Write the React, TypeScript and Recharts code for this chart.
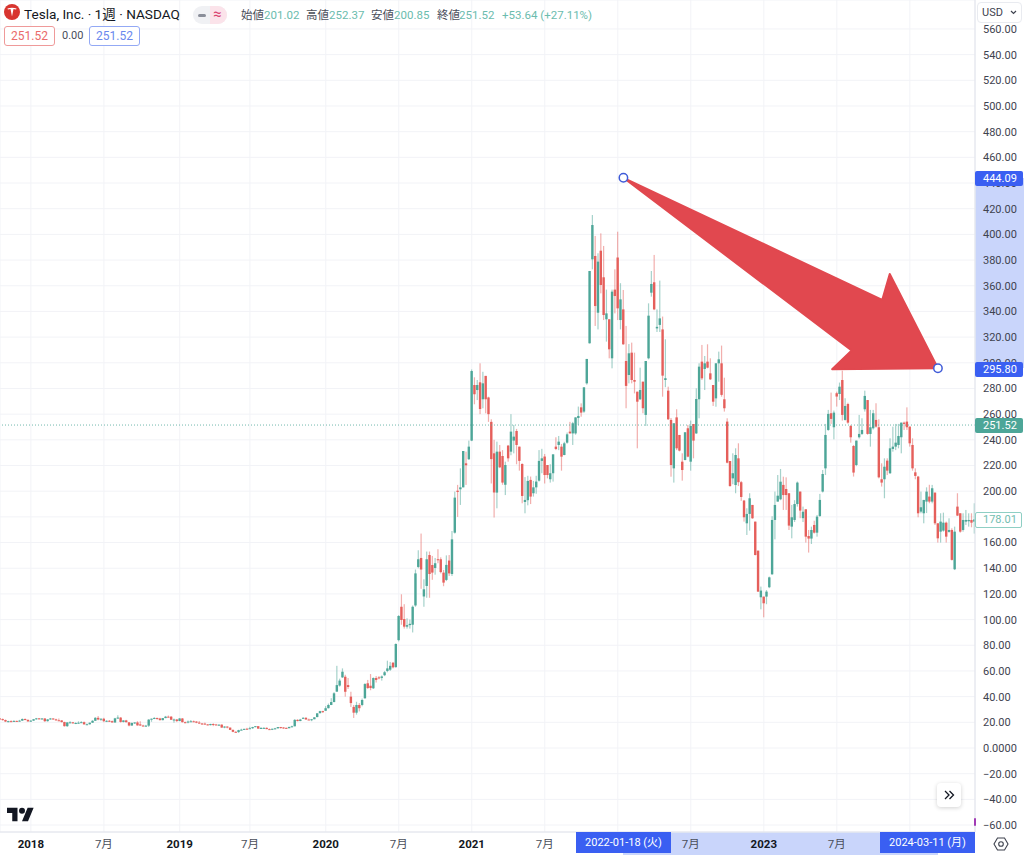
import {
  ComposedChart,
  Bar,
  XAxis,
  YAxis,
  CartesianGrid,
  ReferenceLine,
} from "recharts";

// weekly candles, index 0 = week of 2017-10-16, index 347 = week of 2024-06-10
const opens = [
  23.0,22.5,21.8,20.6,20.9,20.8,21.1,20.8,21.3,22.6,
  21.9,20.8,21.3,22.4,23.1,22.9,23.0,20.9,22.3,23.0,
  22.3,21.6,21.5,20.2,17.0,19.9,20.0,19.3,19.5,19.7,
  20.1,18.4,18.5,19.7,21.2,23.5,22.2,22.8,20.9,21.2,
  20.9,19.9,23.1,23.7,20.3,21.5,20.0,17.5,19.5,19.9,
  18.4,17.5,17.3,17.4,22.1,22.8,23.4,23.0,21.7,23.3,
  24.4,24.4,22.0,22.2,21.0,23.0,20.1,19.9,20.6,20.8,
  20.6,19.8,19.1,19.0,18.4,17.8,18.7,18.3,18.0,18.2,
  15.9,16.7,15.9,14.1,12.6,12.4,13.9,14.3,15.0,15.0,
  15.4,16.3,17.0,15.1,15.6,15.7,14.7,14.3,15.0,15.3,
  16.3,16.0,15.7,15.4,16.4,16.9,21.9,21.0,23.0,23.5,
  22.2,22.0,22.4,24.1,27.1,28.7,29.0,31.0,33.5,35.8,
  43.9,48.6,55.0,55.5,49.0,40.0,32.0,27.5,33.5,33.5,
  38.7,50.4,48.5,46.5,54.5,55.0,54.6,56.7,60.0,61.0,
  66.4,63.0,84.0,110.0,100.4,94.5,95.7,96.0,111.0,141.0,
  148,118,126.2,150.3,142.5,140.2,147,147,136.6,130.9,
  146,135.5,167.7,200.4,201.5,203,221.7,224.9,239.4,282.7,
  278.8,284.8,271.6,289.8,273,254,229.5,198.9,230.8,227.4,
  205,235.5,230.8,239.4,246.9,234.7,221.2,191.6,193,208.8,
  198.4,203,208.2,223.6,227,220.4,209.3,214,234.7,236,
  234.7,228.2,237.8,246.4,245,245,257,265.3,262,284,
  315.2,380.6,383.2,339,387.3,366.6,333.9,333.9,303.5,357,
  382,333.3,341.6,301.4,290.5,307.9,286.6,277.5,271.6,285.3,
  259.4,303.5,354.6,362.7,326.8,329.5,326,286.6,278.3,255.5,
  217.8,257.5,243.8,223,224.3,249,223,252.3,245,271.6,
  300.9,295.2,300.9,291.8,282.7,272.3,299.6,299.6,271.6,254.2,
  223.5,210,204.8,225.6,207,192.7,175,182.3,189.3,176.3,
  153.7,117.4,117.9,117.9,125.2,135.3,177.6,191.9,193.7,204.9,
  201.7,198.4,172.4,177.6,190,199.7,179,185.9,165.1,163.1,
  173.7,167.7,180.7,199.7,217.8,247.7,260.7,249.8,276.3,275.7,
  286.6,255.5,267.9,250.8,235.2,220.4,242,244.6,263.8,271,
  244.6,249,255.5,249.8,209.3,209.3,223.8,214,232.9,234.7,
  236,242,253.4,254.2,250.3,236,214.7,211.4,184.1,182.8,
  191.9,195.8,191.9,198.9,175,168.5,169.3,175.5,168.3,169.8,
  139.2,188,182.8,169.8,176.3,176.6,177.6,176.3,
];
const highs = [
  23.3,23.0,22.2,21.2,21.6,21.6,21.3,21.9,23.0,23.0,
  22.2,21.7,22.6,23.4,23.3,23.3,23.2,22.4,23.4,23.1,
  22.8,23.0,21.6,20.5,20.1,20.9,20.3,20.0,20.8,20.9,
  20.6,19.1,19.8,21.7,24.0,24.9,23.1,23.5,21.6,21.8,
  21.4,23.5,25.5,24.0,21.6,21.9,20.1,19.9,20.0,20.9,
  20.8,18.1,18.0,22.5,23.0,24.0,23.6,23.5,23.4,25.0,
  25.3,24.9,22.9,22.6,23.4,23.3,20.6,21.4,21.8,21.4,
  20.9,21.0,19.5,19.8,18.6,18.9,19.2,18.8,18.3,18.4,
  17.0,16.9,15.9,14.4,13.1,14.2,15.0,15.0,15.7,16.5,
  16.5,17.0,17.0,16.3,16.1,16.0,15.2,15.0,15.7,16.3,
  16.4,16.2,15.9,16.6,17.4,22.5,22.4,22.7,24.0,24.0,
  22.9,22.6,24.0,27.2,29.0,29.0,32.6,34.6,38.8,43.5,
  64.0,54.0,62.0,57.0,54.5,43.8,33.5,36.0,35.0,38.5,
  50.5,53.0,57.6,55.0,56.0,56.0,56.5,60.0,68.0,67.0,
  67.0,81.5,103.5,119.7,112.0,101.0,100.0,111.0,139.0,154.0,
  167,131.4,153,153,149.6,148,154.8,148.5,138.7,150,
  150.3,169,199.7,204.9,217.8,231.3,230.8,239.4,294.8,288.7,
  286.6,299.6,293,289.8,273.6,256,240,238.6,236,232,
  223,236,260,251.6,248.5,234.7,221.7,211,212,211.4,
  208,212,232,233,229,220.4,221,228.7,242,243,
  236.8,238.5,245.7,254,254,257.5,265.9,268.4,280.9,303,
  371.5,415.1,398.8,385.3,400.8,391,357,333.9,357,372.8,
  402.1,362,356.7,328.7,314.6,315.7,307.9,277.5,296.2,285.3,
  301.4,346.3,371.5,384,341.6,364,336,318.3,281.4,257,
  252.9,263.8,243.8,229.5,245.9,251.6,255,252.3,280.1,299.6,
  313.9,305.3,314.4,303.5,282.7,299.6,308.7,313.4,288.4,256.8,
  223.5,229.5,233.4,237.3,208,193.2,186.7,198.4,189.3,176.3,
  153.7,125.7,117.9,123,133.5,180.5,199.7,212.6,217.3,211.3,
  210.8,198.4,189.3,193,207.5,199.7,188,185.9,169.8,172.4,
  177,181.5,197.9,216.5,252.4,263.3,276.8,262.8,277.5,284.6,
  293.9,272.4,268.9,251.6,236,239.4,259.4,256.8,278.3,271,
  263.3,263.3,268.5,256,221.7,225.6,225.6,241.2,250.3,252.4,
  252.4,253.4,254.2,265.3,250.3,241.2,217.8,211.9,199.7,193.2,
  203,205,204.9,198.9,175,182.8,183.3,176.3,178.9,171.1,
  172.4,198.4,182.8,182.8,185.4,182.8,182.8,190.6,
];
const lows = [
  22.2,21.3,20.2,20.0,20.2,20.7,20.4,20.6,21.1,21.6,
  20.6,20.5,21.1,22.1,22.3,22.2,20.3,20.6,22.1,22.0,
  21.3,21.1,19.9,16.7,16.4,19.3,18.9,18.6,19.0,19.5,
  18.3,18.0,18.2,19.6,21.1,21.6,21.1,20.1,20.2,20.3,
  19.8,19.6,22.7,19.8,19.9,19.9,16.9,17.3,18.7,17.4,
  17.3,16.9,16.8,16.4,20.4,22.5,22.0,21.4,21.5,23.2,
  23.9,21.9,19.7,20.2,20.9,19.9,19.3,19.2,20.4,20.2,
  19.3,18.9,18.1,18.3,17.6,17.6,17.0,17.9,17.2,15.7,
  15.4,15.3,14.0,12.3,12.3,11.8,13.8,14.2,14.6,15.0,
  14.9,16.2,14.9,15.0,15.2,14.7,14.2,14.0,14.7,15.3,
  15.1,14.9,15.0,15.4,16.2,16.9,20.7,20.9,22.7,22.0,
  22.0,20.9,22.4,23.9,27.0,27.3,28.9,30.8,33.4,35.6,
  43.7,47.8,54.5,40.0,46.0,32.0,23.4,26.0,28.5,32.5,
  38.5,46.0,45.0,46.0,51.0,53.5,52.5,56.0,59.0,60.0,
  62.0,62.5,83.0,96.0,93.0,93.0,93.0,90.0,110.0,140.0,
  124,110,117,117,131,135,143.9,136,126,130,
  134,134,167,180,189.3,203,204.9,224.3,239,267.7,
  271,260,264.6,260.7,254,206,179.5,186.7,218,205,
  197,223,228,229.5,221,216,190.6,182.8,189,190,
  195.8,198,207.5,214,206,210,206.7,207.5,232,232,
  216,228,237,245,236,244,251.6,258,261,283,
  315,372.8,328.7,326,354.1,333.3,316.5,303.5,295.7,338.5,
  333.3,326,314,264.6,284,284,276.2,233.4,271,260.7,
  250.8,302.7,351.5,341,324,324,273.6,281,255.5,211.3,
  206.7,232,231,208.2,224,226.4,216,225.6,244.6,256.8,
  286.6,278.8,295.7,286.6,266.4,265.8,285.3,273.6,262,221.7,
  203.5,205.4,198.4,204,192.5,176.3,165.9,169.3,178.5,150,
  121.5,108,101.8,112,124.5,134.8,162.5,191.9,193,185.4,
  185.4,169.8,163.3,176,188,179,176,160,152.2,158.9,
  167,164.6,180,199,212.6,247,252.4,240.4,265.9,271,
  255,255,252.5,237.8,211.4,219.5,241,243.8,262,244,
  234.7,248,249.5,210,203.6,194.5,212.6,213.4,230.8,232,
  233.4,229.5,247.7,247.7,234.7,216,209.3,179.7,182.8,175,
  183,190.6,190.6,173.7,160,160,168.5,160,167.7,146,
  138.6,180.7,167.7,168.5,173.7,172.4,171.9,167,
];
const closes = [
  22.5,21.8,20.6,20.9,20.7,21.1,20.8,21.3,22.6,21.9,
  20.7,21.3,22.4,23.1,22.6,23.0,20.9,22.3,23.0,22.3,
  21.6,21.5,20.2,17.0,19.9,20.0,19.3,19.5,19.7,20.1,
  18.4,18.5,19.7,21.2,23.5,22.2,22.8,20.9,21.2,20.9,
  19.9,23.1,23.7,20.3,21.5,20.1,17.5,19.5,19.9,17.6,
  17.5,17.3,17.4,22.1,22.8,23.4,23.0,21.7,23.3,24.4,
  24.3,22.0,22.2,21.0,23.0,20.1,19.9,20.6,20.8,20.6,
  19.7,19.1,19.0,18.4,17.8,18.7,18.3,18.0,18.2,15.9,
  16.7,15.9,14.1,12.6,12.4,13.9,14.3,14.9,14.9,15.4,
  16.3,17.0,15.1,15.6,15.7,14.7,14.3,15.0,15.3,16.3,
  16.0,15.7,15.4,16.4,16.9,21.9,21.0,22.2,23.5,22.2,
  22.0,22.4,23.9,27.0,28.7,28.5,31.0,33.5,35.8,42.6,
  49.0,52.5,59.4,43.8,47.5,35.0,27.5,33.5,31.0,37.4,
  49.8,46.7,46.7,54.5,53.0,54.4,55.7,59.0,62.0,64.0,
  62.8,81.0,102.8,99.7,94.5,95.7,96.7,110.0,136.0,147.0,
  139,123.6,147,135.5,136.6,143.9,146.4,137,128.8,142.6,
  136,162.5,195,199.4,203,231.3,220.2,234.7,293.6,275.5,
  282.7,264,284,271.6,260,225,199,230.8,218.6,206.7,
  220.4,225.6,246.4,242.5,236,223.6,196.3,193.2,208,195.8,
  203,207.5,223.6,225.6,212.6,212.6,214,228.7,232.9,238.6,
  226.9,237.3,244.3,245,252.9,257.5,258.6,261.2,280.9,303,
  371.5,407.3,344.2,378.8,360.6,337.2,338.5,310.5,355.4,352,
  342.4,349.4,314.4,282,307.4,286.6,285.3,269.7,278.8,264.6,
  301.4,336.7,361.4,341.6,328,334.6,290,288,256,220.4,
  252.9,233.4,231.6,216.5,245.9,226.9,250.8,239.4,271.8,297,
  287.9,299.6,296.2,287.1,269.7,299.6,302.7,275,264.6,222.2,
  204,214,228.2,207,195.5,179.7,182.3,194.5,178.9,150.3,
  121.8,122.6,112.7,121.8,132.9,177.6,189.3,196.5,207.4,197,
  197,173.2,179.7,190,206.7,184.9,184,164.6,163.1,169.8,
  167.7,180.2,193.2,213.4,243.8,260.2,256.3,261.2,273.7,281.4,
  259.4,266.4,253.4,242,214.5,239.4,244.6,247.7,274.2,244.6,
  249.8,260.7,250.3,210.8,206.7,219.1,216,233.4,234.7,237.8,
  243,253.4,252.4,249.8,237.3,217.8,211.9,182.8,187.5,193.2,
  199.7,191.9,202.3,175,163.3,176.3,175.5,164.6,169.8,146.5,
  168.5,181,168.5,177.6,177.6,177.6,175.5,178,
];

const timeTicks = [11, 37, 64, 89, 116, 142, 168, 194, 220, 246, 272, 298, 324];
// the 2022 and 2024 labels sit under the drawing's date labels in the reference
const timeLabels = ["2018", "7月", "2019", "7月", "2020", "7月", "2021", "7月", "", "7月", "2023", "7月", ""];
const priceTicks = [
  -60, -40, -20, 0, 20, 40, 60, 80, 100, 120, 140, 160, 180, 200, 220, 240, 260, 280, 300,
  320, 340, 360, 380, 400, 420, 440, 460, 480, 500, 520, 540, 560,
];
const arrowFrom = { week: 222, price: 444.09 };
const arrowTo = { week: 334, price: 295.8 };
const lastPrice = 251.52;

const rows = opens.map((open, i) => ({
  week: i,
  open,
  high: highs[i],
  low: lows[i],
  close: closes[i],
}));

const FONT = 'Roboto, "Noto Sans CJK JP", sans-serif';
const GREEN = "#4da698";
const RED = "#e55f5b";
const BLUE = "#3a5ff2";

const Candle = (props: any) => {
  const { x, y, width, height, payload } = props;
  const { open, high, low, close } = payload;
  const cx = x + width / 2;
  const unit = height / (high - low);
  const top = y + (high - Math.max(open, close)) * unit;
  const bottom = y + (high - Math.min(open, close)) * unit;
  const color = close >= open ? GREEN : RED;
  return (
    <g>
      <rect x={cx - 0.6} y={y} width={1.2} height={height} fill={color} opacity={0.5} />
      <rect x={cx - 1.2} y={top} width={2.4} height={Math.max(bottom - top, 1)} fill={color} />
    </g>
  );
};

// arrow marker between the two anchors, head offsets are in px along/across the arrow
const ArrowMarker = (props: any) => {
  const { x1, y1, x2, y2 } = props;
  const len = Math.hypot(x2 - x1, y2 - y1);
  const ux = (x2 - x1) / len;
  const uy = (y2 - y1) / len;
  const at = (back: number, side: number) =>
    `${x2 - ux * back - uy * side},${y2 - uy * back + ux * side}`;
  const pts = [`${x1},${y1}`, at(83, -29.5), at(90, -55.6), `${x2},${y2}`, at(90, 55.6), at(83, 29.5)];
  return (
    <g>
      <polygon points={pts.join(" ")} fill="#e1484f" stroke="#e1484f" strokeWidth={2} strokeLinejoin="round" />
      <circle cx={x1} cy={y1} r={4.2} fill="#fff" stroke="#3f5bd8" strokeWidth={1.5} />
      <circle cx={x2} cy={y2} r={4.2} fill="#fff" stroke="#3f5bd8" strokeWidth={1.5} />
    </g>
  );
};

const TimeTick = (props: any) => {
  const { x, payload } = props;
  const label = timeLabels[timeTicks.indexOf(payload.value)];
  if (!label) return <g />;
  const isYear = label.length === 4;
  return (
    <text
      x={x}
      y={848}
      textAnchor="middle"
      fontFamily={FONT}
      fontSize={11.5}
      fontWeight={isYear ? 700 : 400}
      fill={isYear ? "#131722" : "#4a4e5a"}
    >
      {label}
    </text>
  );
};

const priceLabel = (v: number) => {
  if (v === 0) return "0.0000";
  // 180.00 is hidden by the last price tag in the reference
  if (v === 180) return "";
  return v < 0 ? "−" + Math.abs(v).toFixed(2) : v.toFixed(2);
};

const box = (left: number, top: number, width: number, height: number, extra: any = {}): any => ({
  position: "absolute",
  left,
  top,
  width,
  height,
  boxSizing: "border-box",
  ...extra,
});

const tag = (top: number, bg: string, text: string) => (
  <div
    style={box(975, top, 48, 15, {
      background: bg,
      color: "#fff",
      fontSize: 11,
      lineHeight: "15px",
      paddingLeft: 8,
      borderRadius: 2,
    })}
  >
    {text}
  </div>
);

const TXT = (left: number, color: string, text: string) => (
  <span style={{ position: "absolute", left, top: 5, fontSize: 11.5, lineHeight: "16px", color, whiteSpace: "nowrap" }}>
    {text}
  </span>
);

export default function App() {
  return (
    <div style={box(0, 0, 1024, 855, { overflow: "hidden", background: "#fff", fontFamily: FONT })}>
      {/* ranges of the drawing, behind the axes */}
      <div style={box(975, 178, 49, 190, { background: "#c9d5fb" })} />
      <div style={box(623, 832, 315, 23, { background: "#c9d5fb" })} />

      <ComposedChart
        width={1024}
        height={855}
        data={rows}
        margin={{ top: 0, right: 0, bottom: 0, left: 0 }}
        barCategoryGap={0}
      >
        <CartesianGrid stroke="#f2f3f7" />
        <XAxis
          dataKey="week"
          type="number"
          domain={[0, 347.2]}
          allowDataOverflow
          ticks={timeTicks}
          interval={0}
          height={23}
          tick={<TimeTick />}
          tickLine={false}
          axisLine={{ stroke: "#e0e3eb" }}
        />
        <YAxis
          orientation="right"
          type="number"
          width={49}
          domain={[-65.42, 582.55]}
          allowDataOverflow
          ticks={priceTicks}
          interval={0}
          tickFormatter={priceLabel}
          tick={{ fontFamily: FONT, fontSize: 11, fill: "#3f434f" }}
          tickLine={false}
          tickSize={0}
          tickMargin={8}
          axisLine={{ stroke: "#e0e3eb" }}
        />
        <ReferenceLine y={lastPrice} stroke={GREEN} strokeDasharray="1 2" strokeOpacity={0.8} />
        <Bar
          dataKey={(d: any) => [d.low, d.high]}
          barSize={3}
          shape={<Candle />}
          isAnimationActive={false}
        />
        <ReferenceLine
          segment={[
            { x: arrowFrom.week, y: arrowFrom.price },
            { x: arrowTo.week, y: arrowTo.price },
          ]}
          ifOverflow="visible"
          shape={<ArrowMarker />}
        />
      </ComposedChart>

      {/* header */}
      <svg style={box(4, 4, 16, 16)} viewBox="0 0 16 16">
        <circle cx="8" cy="8" r="8" fill="#d8352f" />
        <path d="M3.5 4.6c2.8-1 6.2-1 9 0l-.4 1c-.9-.3-1.8-.5-2.6-.5L8 12.5 6.500 5.100c-.8 0-1.700.200-2.600.500z" fill="#fff" />
      </svg>
      <span style={{ position: "absolute", left: 24, top: 5, fontSize: 13.6, lineHeight: "18px", color: "#131722", whiteSpace: "nowrap" }}>
        Tesla, Inc. · 1週 · NASDAQ
      </span>
      <div style={box(193, 6, 34, 18, { background: "#f0f1f4", borderRadius: 9 })} />
      <div style={box(210, 6, 17, 18, { background: "#fbe3ea", borderRadius: "0 9px 9px 0" })} />
      <div style={box(198, 13.5, 8, 3, { background: "#8a8e99", borderRadius: 1.5 })} />
      <span style={{ position: "absolute", left: 213, top: 5, fontSize: 15, lineHeight: "18px", color: "#d9406f" }}>≈</span>

      <div style={box(0, 2, 640, 16, { fontSize: 11.5 })}>
        {TXT(241, "#4a4e5a", "始値")}
        {TXT(264, "#6bbcae", "201.02")}
        {TXT(306, "#4a4e5a", "高値")}
        {TXT(329, "#6bbcae", "252.37")}
        {TXT(371, "#4a4e5a", "安値")}
        {TXT(394, "#6bbcae", "200.85")}
        {TXT(437, "#4a4e5a", "終値")}
        {TXT(459, "#6bbcae", "251.52")}
        {TXT(502, "#6bbcae", "+53.64 (+27.11%)")}
      </div>

      <div style={box(4, 26, 51, 20, { border: "1px solid #ef9a9a", borderRadius: 3, background: "#fff", color: "#ea6a6a", fontSize: 12, lineHeight: "18px", textAlign: "center" })}>
        251.52
      </div>
      <span style={{ position: "absolute", left: 62, top: 28, fontSize: 11, lineHeight: "16px", color: "#4a4e5a" }}>0.00</span>
      <div style={box(89, 26, 51, 20, { border: "1px solid #93a9f5", borderRadius: 3, background: "#fff", color: "#6a88ee", fontSize: 12, lineHeight: "18px", textAlign: "center" })}>
        251.52
      </div>

      {/* price scale */}
      <div style={box(977, 2, 45, 21, { border: "1px solid #e9ebf0", borderRadius: 4, background: "#fff", fontSize: 11, lineHeight: "19px", paddingLeft: 4, color: "#3f434f" })}>
        USD
        <svg style={box(32, 7, 7, 5)} viewBox="0 0 7 5">
          <path d="M1 1l2.500 2.500L6 1" fill="none" stroke="#3f434f" strokeWidth="1.200" />
        </svg>
      </div>
      {tag(170.5, BLUE, "444.09")}
      {tag(361.5, BLUE, "295.80")}
      {tag(418, GREEN, "251.52")}
      <div style={box(975, 512, 47, 15.500, { border: "1px solid #8fcfc4", borderRadius: 2, background: "#fff", color: "#72bdb0", fontSize: 11, lineHeight: "14px", paddingLeft: 7 })}>
        178.01
      </div>

      {/* time scale labels of the drawing */}
      <div style={box(576, 832, 95, 21, { background: BLUE, color: "#fff", fontSize: 11, lineHeight: "21px", textAlign: "center" })}>
        2022-01-18 (火)
      </div>
      <div style={box(880, 832, 95, 21, { background: BLUE, color: "#fff", fontSize: 11, lineHeight: "21px", textAlign: "center" })}>
        2024-03-11 (月)
      </div>
      <svg style={box(993, 836, 16, 16)} viewBox="0 0 16 16">
        <path d="M4.500 2h7L15 8l-3.500 6h-7L1 8z" fill="none" stroke="#3f434f" strokeWidth="1.100" />
        <circle cx="8" cy="8" r="2.300" fill="none" stroke="#3f434f" strokeWidth="1.100" />
      </svg>

      <div style={box(974, 818, 2, 8, { background: "#a13bb5", borderRadius: 1 })} />

      {/* go to realtime button */}
      <div style={box(937, 783, 24, 24, { background: "#fff", borderRadius: 4, boxShadow: "0 1px 4px rgba(0,0,0,0.18)" })}>
        <svg style={box(7, 7, 11, 10)} viewBox="0 0 11 10">
          <path d="M1 1l4 4-4 4M5.500 1l4 4-4 4" fill="none" stroke="#131722" strokeWidth="1.300" />
        </svg>
      </div>

      {/* TradingView mark */}
      <svg style={box(7, 806, 27, 17)} viewBox="0 3 36 20">
        <path d="M14 22H7V11H0V4h14v18zM28 22h-8l7.500-18h8L28 22z" fill="#131722" />
        <circle cx="20" cy="8" r="4" fill="#131722" />
      </svg>
    </div>
  );
}
